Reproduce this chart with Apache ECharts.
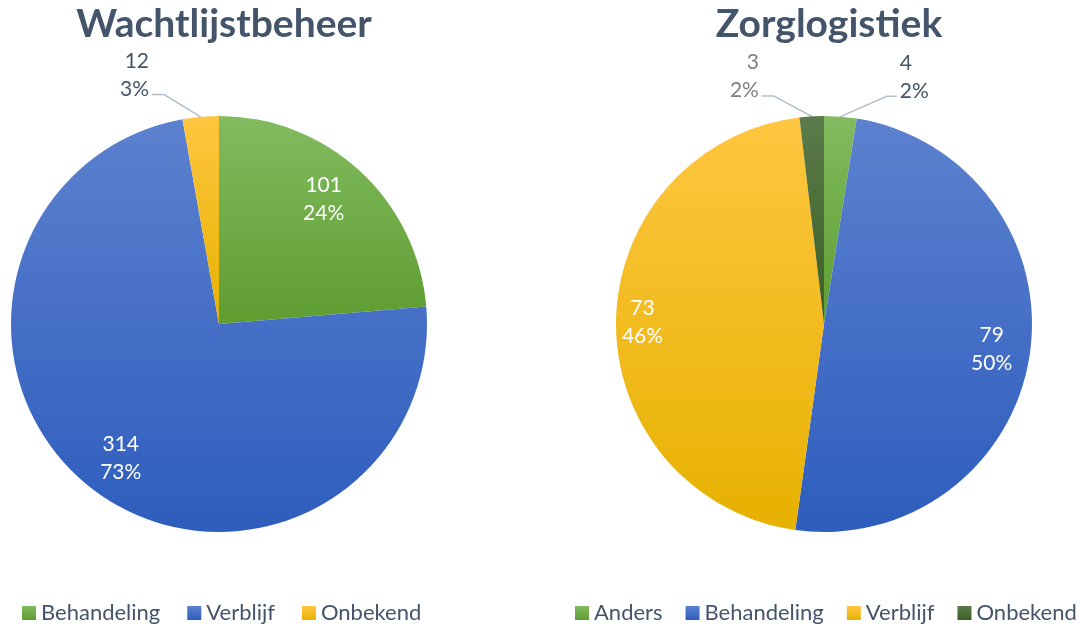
<!DOCTYPE html>
<html>
<head>
<meta charset="utf-8">
<script src="https://cdn.jsdelivr.net/npm/echarts@6/dist/echarts.min.js"></script>
<style>
html,body{margin:0;padding:0;background:#fff;}
#left{position:absolute;left:0;top:0;width:543px;height:632px;}
#right{position:absolute;left:543px;top:0;width:543px;height:632px;}
</style>
</head>
<body>
<div id="left"></div>
<div id="right"></div>
<script>
// ---- data ----
const leftTitle = 'Wachtlijstbeheer';
const leftCategories = ['Behandeling', 'Verblijf', 'Onbekend'];
const leftValues = [101, 314, 12];
const rightTitle = 'Zorglogistiek';
const rightCategories = ['Anders', 'Behandeling', 'Verblijf', 'Onbekend'];
const rightValues = [4, 79, 73, 3];

// ---- styles ----
const FONT = 'Lato, "Open Sans", sans-serif';
const TXT = '#44546a';
function grad(top, bottom) {
  return new echarts.graphic.LinearGradient(0, 0, 0, 1, [
    {offset: 0, color: top}, {offset: 1, color: bottom}
  ]);
}
const GREEN = grad('#82bb60', '#5e9d30');
const BLUE = grad('#5c81cf', '#2e5dbd');
const YELLOW = grad('#ffc640', '#e6b100');
const DKGREEN = grad('#5b7b4b', '#3c5f24');

const leftColors = [GREEN, BLUE, YELLOW];
const rightColors = [GREEN, BLUE, YELLOW, DKGREEN];
const leftSmall = [false, false, true];
const rightSmall = [true, false, false, true];
const rightOutsideColor = [TXT, null, null, '#7f7f7f'];

function build(el, title, cats, vals, colors, small, outColors, cx, legendLeft, legendGap, outsideDx, insideDx) {
  const chart = echarts.init(document.getElementById(el), null, {renderer: 'canvas'});
  const mainData = cats.map((n, i) => ({
    name: n, value: vals[i],
    itemStyle: {color: colors[i]},
    label: small[i] ? {show: true, color: (outColors && outColors[i]) || TXT} : {show: false},
    labelLine: {show: small[i]}
  }));
  const overlayData = cats.map((n, i) => ({
    name: n, value: vals[i],
    label: {show: !small[i]}
  }));
  chart.setOption({
    animation: false,
    title: {
      text: title, left: cx, top: 0, textAlign: 'center',
      textStyle: {fontFamily: FONT, fontSize: 39, fontWeight: 'bold', color: TXT}
    },
    legend: {
      data: cats, left: legendLeft, bottom: 3, width: 530, icon: 'rect',
      itemWidth: 14, itemHeight: 14, itemGap: legendGap,
      textStyle: {fontFamily: FONT, fontSize: 22, color: TXT}
    },
    series: [
      {
        type: 'pie', center: [cx, 324], radius: [0, 208],
        startAngle: 90, clockwise: true, percentPrecision: 0,
        avoidLabelOverlap: false, silent: true,
        data: mainData,
        label: {
          position: 'outside', formatter: '{c}\n{d}%',
          fontFamily: FONT, fontSize: 21, lineHeight: 28, color: TXT
        },
        labelLine: {length: 30, length2: 10, lineStyle: {color: '#b4bfcc', width: 1.5}},
        labelLayout: function (p) {
          const d = outsideDx[p.dataIndex];
          if (!d || !p.labelLinePoints) return {};
          const r = p.labelRect;
          const nx = r.x + d[0], ny = r.y + d[1];
          const start = p.labelLinePoints[0];
          const leftSide = d[0] < 0;
          const ey = ny + r.height * 0.85;
          const ex = leftSide ? nx + r.width + 3 : nx - 3;
          const mx = leftSide ? ex + 12 : ex - 10;
          return {dx: d[0], dy: d[1], labelLinePoints: [start, [mx, ey], [ex, ey]]};
        },
        itemStyle: {borderWidth: 0}
      },
      {
        type: 'pie', center: [cx, 324], radius: [125, 208],
        startAngle: 90, clockwise: true, percentPrecision: 0,
        silent: true, legendHoverLink: false,
        data: overlayData,
        itemStyle: {color: 'rgba(0,0,0,0)'},
        label: {
          position: 'inside', formatter: '{c}\n{d}%',
          fontFamily: FONT, fontSize: 21, lineHeight: 28, color: '#ffffff'
        },
        labelLine: {show: false},
        labelLayout: function (p) {
          const d = insideDx[p.dataIndex];
          return d ? {dx: d} : {};
        }
      }
    ]
  });
}

build('left', leftTitle, leftCategories, leftValues, leftColors, leftSmall, null, 219, 17, 27,
  [null, null, [-34, -12]], [-10, 5, 0]);
build('right', rightTitle, rightCategories, rightValues, rightColors, rightSmall, rightOutsideColor, 281, 27, 23,
  [[42, -10], null, null, [-36, -10]], [0, 0, -12, 0]);
</script>
</body>
</html>
